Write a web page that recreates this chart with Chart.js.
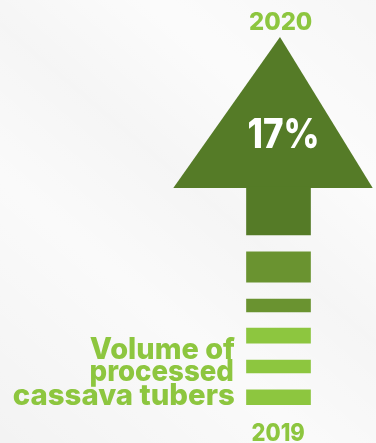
<!DOCTYPE html>
<html>
<head>
<meta charset="utf-8">
<script src="https://cdn.jsdelivr.net/npm/chart.js@4/dist/chart.umd.min.js"></script>
<style>
  html, body { margin: 0; padding: 0; background: #f4f4f4; }
  #wrap { position: relative; width: 376px; height: 443px; }
</style>
</head>
<body>
<div id="wrap"><canvas id="c"></canvas></div>
<script>
// ---------- data ----------
const categories = ['Volume of processed cassava tubers'];
const yearLabels = ['2019', '2020'];
const changeLabel = '17%';
const metricLines = ['Volume of', 'processed', 'cassava tubers'];
// progress scale: 0 = 2019 baseline, 100 = 2020 arrow tip
const stripeRanges = [[0, 4.1], [8.7, 12.2], [16.8, 20.9], [25.3, 28.8], [33.4, 41.6]];
const shaftRange = [46.2, 59.2];
const headBase = 59.0;
const headTip = 100;
const headSpread = [-1.644, 0.023, 1.472]; // left corner, tip, right corner (in shaft widths)

// ---------- styles ----------
const LIGHT = '#8dc63f';
const MID = '#6a9330';
const DARK = '#557b27';
const stripeColors = [LIGHT, LIGHT, LIGHT, MID, MID];
const FONT = 'Inter';
// horizontal axis in shaft widths, shaft centred at 0
const X_MIN = -278.5 / 64, X_MAX = 97.5 / 64;

const barBase = {
  type: 'bar',
  borderWidth: 0,
  grouped: false,
  barPercentage: 1,
  categoryPercentage: 1
};
const datasets = stripeRanges.map((r, i) => Object.assign({}, barBase, {
  label: categories[0] + ' ' + i,
  data: [{ x: 0, y: r }],
  backgroundColor: stripeColors[i]
}));
datasets.push(Object.assign({}, barBase, {
  label: 'shaft',
  data: [{ x: 0, y: shaftRange }],
  backgroundColor: DARK
}));
datasets.push({
  type: 'line',
  label: 'head',
  data: [
    { x: headSpread[0], y: headBase },
    { x: headSpread[1], y: headTip },
    { x: headSpread[2], y: headBase }
  ],
  backgroundColor: DARK,
  borderColor: DARK,
  borderWidth: 0,
  pointRadius: 0,
  fill: 'shape',
  clip: false,
  tension: 0
});

function capRatio(family, weight) {
  const c = document.createElement('canvas').getContext('2d');
  c.font = `${weight} 100px ${family}`;
  return c.measureText('H').actualBoundingBoxAscent / 100;
}

function drawInk(ctx, text, inkLeft, inkRight, baseline, capH, color) {
  const weight = 800;
  const size = capH / capRatio(FONT, weight);
  ctx.save();
  ctx.font = `${weight} ${size}px ${FONT}`;
  ctx.textAlign = 'left';
  ctx.textBaseline = 'alphabetic';
  const m = ctx.measureText(text);
  const inkW = m.actualBoundingBoxLeft + m.actualBoundingBoxRight;
  const sx = (inkRight - inkLeft) / inkW;
  ctx.translate(inkLeft + m.actualBoundingBoxLeft * sx, baseline);
  ctx.scale(sx, 1);
  ctx.fillStyle = color;
  ctx.fillText(text, 0, 0);
  ctx.restore();
}

const bgPlugin = {
  id: 'bg',
  beforeDraw(chart) {
    const { ctx, width, height } = chart;
    ctx.save();
    ctx.fillStyle = '#f3f3f3';
    ctx.fillRect(0, 0, width, height);
    const g = ctx.createLinearGradient(0, height, width, 0);
    g.addColorStop(0, 'rgba(255,255,255,0)');
    g.addColorStop(0.35, 'rgba(255,255,255,0.6)');
    g.addColorStop(0.55, 'rgba(255,255,255,0.2)');
    g.addColorStop(0.75, 'rgba(255,255,255,0.7)');
    g.addColorStop(1, 'rgba(255,255,255,0.3)');
    ctx.fillStyle = g;
    ctx.fillRect(0, 0, width, height);
    ctx.restore();
  }
};

const textPlugin = {
  id: 'texts',
  afterDraw(chart) {
    const { ctx } = chart;
    const y = chart.scales.y;
    const x = chart.scales.x;
    const shaft = chart.getDatasetMeta(stripeRanges.length).data[0];
    const barLeft = shaft.x - shaft.width / 2;
    // year labels
    const tipX = x.getPixelForValue(headSpread[1]);
    drawInk(ctx, yearLabels[1], tipX - 30, tipX + 31.7, y.getPixelForValue(headTip) - 7.4, 17.6, LIGHT);
    drawInk(ctx, yearLabels[0], shaft.x - 26, shaft.x + 25.5, y.getPixelForValue(0) + 36, 17.6, LIGHT);
    // change label
    const cy = y.getPixelForValue(69.8);
    drawInk(ctx, changeLabel, shaft.x - 30.2, shaft.x + 38.2, cy, 30, '#ffffff');
    // metric label, right aligned next to stripes
    const right = barLeft - 11.7;
    const base0 = y.getPixelForValue(12.6);
    const specs = [[145, 0], [142.6, 21.9], [221, 46.7]];
    metricLines.forEach((t, i) => {
      const [w, dy] = specs[i];
      const r = i === 1 ? right - 1.7 : right;
      drawInk(ctx, t, r - w, r, base0 + dy, 21.6, LIGHT);
    });
  }
};

new Chart(document.getElementById('c'), {
  type: 'bar',
  data: { datasets },
  options: {
    responsive: true,
    maintainAspectRatio: false,
    animation: false,
    devicePixelRatio: 1,
    layout: { padding: { left: 0, right: 0, top: 37, bottom: 38 } },
    plugins: { legend: { display: false }, tooltip: { enabled: false } },
    scales: {
      x: {
        type: 'linear', display: false, offset: false, min: X_MIN, max: X_MAX,
        // one tick per shaft width so the bar ruler equals one unit
        afterBuildTicks: (s) => { s.ticks = [{ value: 0 }, { value: 1 }]; }
      },
      y: { display: false, min: 0, max: 100 }
    }
  },
  plugins: [bgPlugin, textPlugin]
});
</script>
</body>
</html>
